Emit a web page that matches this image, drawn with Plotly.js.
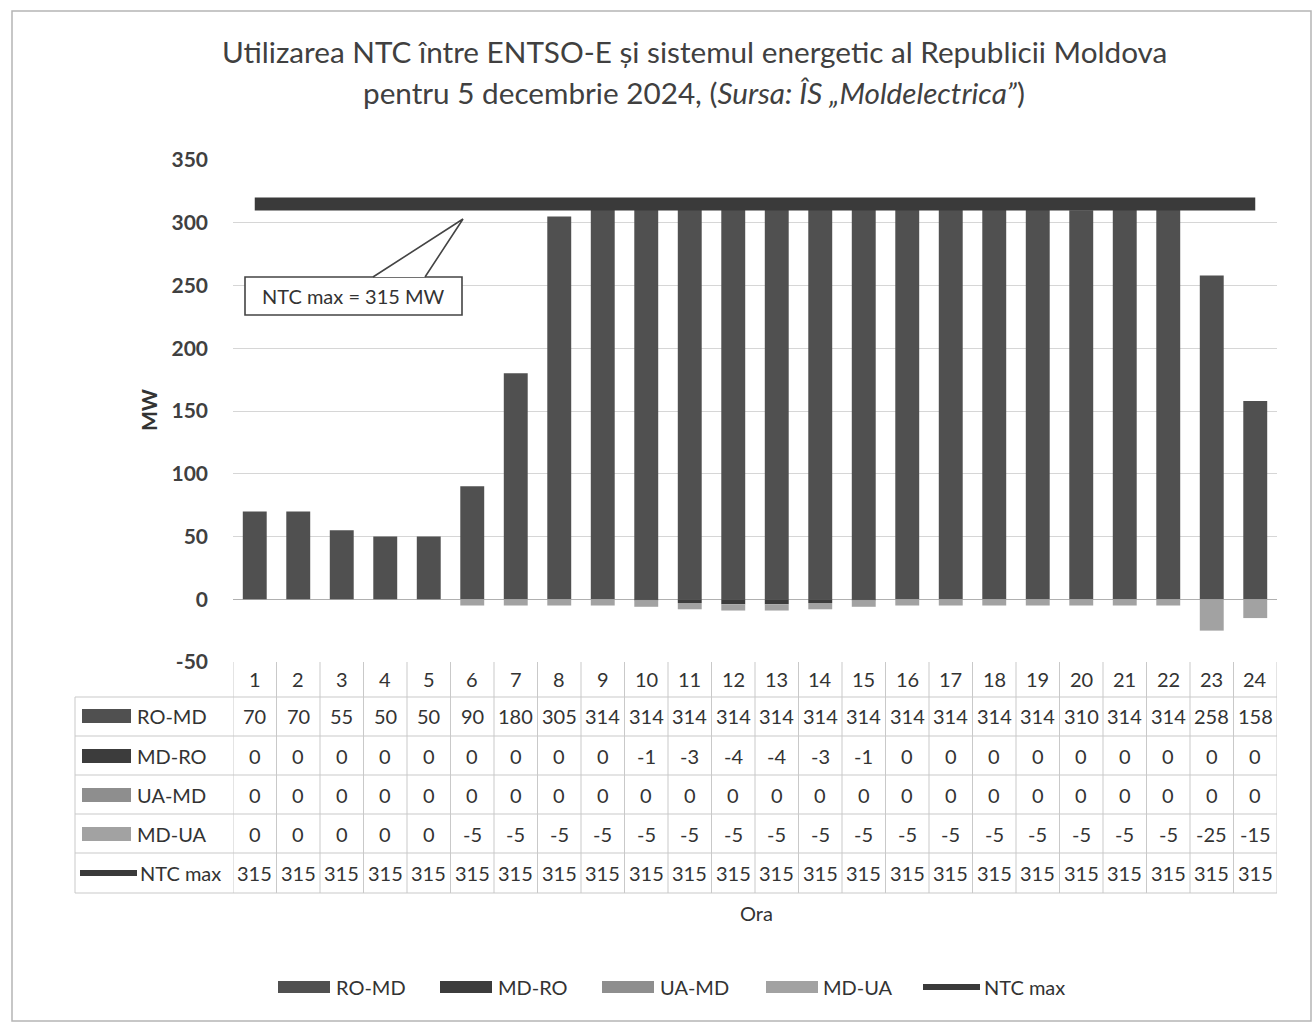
<!DOCTYPE html>
<html><head><meta charset="utf-8">
<script src="https://cdn.plot.ly/plotly-3.0.1.min.js"></script>
<style>html,body{margin:0;padding:0;background:#fff}</style>
</head><body><div id="chart" style="width:1315px;height:1023px"></div>
<script>
const hours = [1,2,3,4,5,6,7,8,9,10,11,12,13,14,15,16,17,18,19,20,21,22,23,24];
const seriesNames = ['RO-MD','MD-RO','UA-MD','MD-UA','NTC max'];
const roMd = [70,70,55,50,50,90,180,305,314,314,314,314,314,314,314,314,314,314,314,310,314,314,258,158];
const mdRo = [0,0,0,0,0,0,0,0,0,-1,-3,-4,-4,-3,-1,0,0,0,0,0,0,0,0,0];
const uaMd = [0,0,0,0,0,0,0,0,0,0,0,0,0,0,0,0,0,0,0,0,0,0,0,0];
const mdUa = [0,0,0,0,0,-5,-5,-5,-5,-5,-5,-5,-5,-5,-5,-5,-5,-5,-5,-5,-5,-5,-25,-15];
const ntcMax = [315,315,315,315,315,315,315,315,315,315,315,315,315,315,315,315,315,315,315,315,315,315,315,315];
const yTicks = [-50,0,50,100,150,200,250,300,350];
const yTickText = ['-50','0','50','100','150','200','250','300','350'];
const titleLine1 = 'Utilizarea NTC între ENTSO-E și sistemul energetic al Republicii Moldova';
const titleLine2 = 'pentru 5 decembrie 2024, (<i>Sursa: ÎS „Moldelectrica”</i>)';
const ntcLabel = 'NTC max = 315 MW';
const xTitle = 'Ora';
const yTitle = 'MW';

const FONT = 'Lato, "Open Sans", sans-serif';
const TXT = '#333333';
const L = 233, R = 1277, T = 160, B = 662;
const px2x = px => (px - L) / (R - L);
const px2y = py => (B - py) / (B - T);
const pxX2data = px => (px - L) / ((R - L) / 24) + 0.5;
const pxY2data = py => 350 - (py - T) * 400 / (B - T);

const colors = {'RO-MD':'#505050','MD-RO':'#3c3c3c','UA-MD':'#8e8e8e','MD-UA':'#a2a2a2','NTC max':'#3a3a3a'};
const seriesVals = [roMd, mdRo, uaMd, mdUa, ntcMax];

const traces = [];
[roMd, mdRo, uaMd, mdUa].forEach((vals, i) => {
  traces.push({type:'bar', x:hours, y:vals, name:seriesNames[i],
    marker:{color:colors[seriesNames[i]]}, hoverinfo:'x+y+name'});
});
traces.push({type:'scatter', mode:'lines', x:hours, y:ntcMax, name:'NTC max',
  line:{color:colors['NTC max'], width:13}});

const shapes = [];
const annotations = [];
const gridCol = '#c9c9c9';
const txt = (o) => Object.assign({showarrow:false, yanchor:'middle', xanchor:'center',
  font:{family:FONT, size:20, color:TXT}}, o);

const rowLines = [697, 736, 775, 814, 853, 893];
const rowCenters = [716, 756, 795, 834, 873];
const headerCenter = 679;

for (let k = 0; k <= 24; k++) {
  shapes.push({type:'line', xref:'x', yref:'paper', x0:k+0.5, x1:k+0.5, y0:0, y1:px2y(893),
    line:{color:gridCol, width:1}});
}
shapes.push({type:'line', xref:'paper', yref:'paper', x0:px2x(75), x1:px2x(75), y0:px2y(697), y1:px2y(893), line:{color:gridCol,width:1}});
rowLines.forEach(py => {
  shapes.push({type:'line', xref:'paper', yref:'paper', x0:px2x(75), x1:1, y0:px2y(py), y1:px2y(py), line:{color:gridCol,width:1}});
});

hours.forEach(h => {
  annotations.push(txt({xref:'x', yref:'paper', x:h, y:px2y(headerCenter), text:String(h)}));
});
seriesVals.forEach((vals, i) => {
  vals.forEach((v, j) => {
    annotations.push(txt({xref:'x', yref:'paper', x:hours[j], y:px2y(rowCenters[i]), text:String(v)}));
  });
  annotations.push(txt({xref:'paper', yref:'paper', x:px2x(i === 4 ? 138 : 135), y:px2y(rowCenters[i]), xanchor:'left',
    text:seriesNames[i]}));
  if (i < 4) {
    shapes.push({type:'rect', xref:'paper', yref:'paper', x0:px2x(82), x1:px2x(131), y0:px2y(rowCenters[i]+7), y1:px2y(rowCenters[i]-7),
      fillcolor:colors[seriesNames[i]], line:{width:0}});
  } else {
    shapes.push({type:'line', xref:'paper', yref:'paper', x0:px2x(80), x1:px2x(137), y0:px2y(rowCenters[i]), y1:px2y(rowCenters[i]),
      line:{color:colors['NTC max'], width:6}});
  }
});

const legItems = [[278,330,334],[440,492,496],[602,654,658],[766,818,821],[923,980,982]];
const legY = 987;
legItems.forEach((it, i) => {
  if (i < 4) {
    shapes.push({type:'rect', xref:'paper', yref:'paper', x0:px2x(it[0]), x1:px2x(it[1]), y0:px2y(legY+6), y1:px2y(legY-6),
      fillcolor:colors[seriesNames[i]], line:{width:0}});
  } else {
    shapes.push({type:'line', xref:'paper', yref:'paper', x0:px2x(it[0]), x1:px2x(it[1]), y0:px2y(legY), y1:px2y(legY),
      line:{color:colors['NTC max'], width:6}});
  }
  annotations.push(txt({xref:'paper', yref:'paper', x:px2x(it[2]), y:px2y(legY), xanchor:'left', text:seriesNames[i]}));
});

annotations.push(txt({xref:'paper', yref:'paper', x:px2x(756), y:px2y(913), text:xTitle}));
annotations.push(txt({xref:'paper', yref:'paper', x:px2x(148), y:px2y(410), text:yTitle, textangle:-90,
  font:{family:FONT, size:21, color:TXT, weight:'bold'}}));

annotations.push(txt({xref:'paper', yref:'paper', x:px2x(694), y:px2y(52), text:titleLine1,
  font:{family:FONT, size:29.7, color:'#404040'}}));
annotations.push(txt({xref:'paper', yref:'paper', x:px2x(694), y:px2y(93), text:titleLine2,
  font:{family:FONT, size:29.7, color:'#404040'}}));

const bx0 = pxX2data(245), bx1 = pxX2data(462), by0 = pxY2data(315), by1 = pxY2data(277);
const lx = pxX2data(373), rx = pxX2data(425), tx = pxX2data(463), ty = pxY2data(219);
shapes.push({type:'rect', xref:'x', yref:'y', x0:bx0, x1:bx1, y0:by0, y1:by1, fillcolor:'#ffffff',
  line:{color:'#444', width:1.6}, layer:'above'});
shapes.push({type:'path', xref:'x', yref:'y', path:`M ${lx},${by1} L ${tx},${ty} L ${rx},${by1} Z`,
  fillcolor:'#ffffff', line:{width:0}, layer:'above'});
shapes.push({type:'path', xref:'x', yref:'y', path:`M ${lx},${by1} L ${tx},${ty} L ${rx},${by1}`,
  line:{color:'#444', width:1.6}, layer:'above'});
annotations.push(txt({xref:'x', yref:'y', x:(bx0+bx1)/2, y:(by0+by1)/2, text:ntcLabel}));

shapes.push({type:'rect', xref:'paper', yref:'paper', x0:px2x(12), x1:px2x(1311), y0:px2y(1021), y1:px2y(11),
  line:{color:'#b5b5b5', width:1.5}, fillcolor:'rgba(0,0,0,0)'});

const layout = {
  width:1315, height:1023, autosize:false,
  paper_bgcolor:'#ffffff', plot_bgcolor:'#ffffff',
  margin:{l:L, r:1315-R, t:T, b:1023-B, pad:0},
  barmode:'relative', bargap:0.45,
  showlegend:false,
  xaxis:{range:[0.5,24.5], showticklabels:false, showgrid:false, zeroline:false, showline:false, ticks:'', fixedrange:true},
  yaxis:{range:[-50,350], tickvals:yTicks, ticktext:yTickText, showgrid:true, gridcolor:'#d6d6d6', gridwidth:1,
    zeroline:true, zerolinecolor:'#b0b0b0', zerolinewidth:1.5, showline:false, ticks:'',
    ticklabelstandoff:24, tickfont:{family:FONT, size:21, color:'#404040', weight:'bold'}, fixedrange:true},
  shapes:shapes, annotations:annotations
};

Plotly.newPlot('chart', traces, layout, {displayModeBar:false, staticPlot:true});
</script>
</body></html>
